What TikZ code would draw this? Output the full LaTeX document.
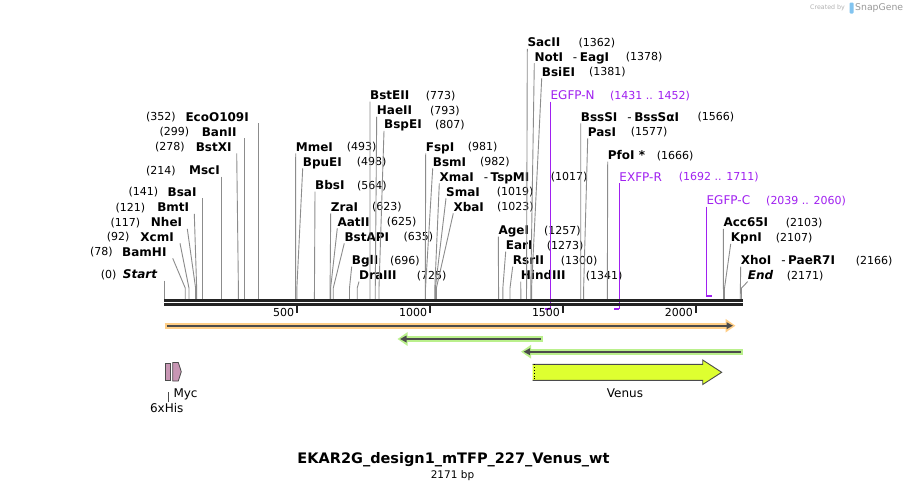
\documentclass[tikz,border=0pt]{standalone}
\usepackage{fontspec}
\setmainfont{DejaVu Sans}
\usetikzlibrary{arrows.meta}
\definecolor{mapline}{RGB}{35,35,35}
\definecolor{cutline}{RGB}{140,140,140}
\definecolor{primer}{RGB}{160,32,240}
\definecolor{orfhalo}{RGB}{255,206,134}
\definecolor{greenhalo}{RGB}{186,240,140}
\definecolor{featline}{RGB}{75,75,75}
\definecolor{venusfill}{RGB}{222,255,48}
\definecolor{tagpink}{RGB}{200,150,180}
\definecolor{logoblue}{RGB}{130,196,240}

\begin{document}
\begin{tikzpicture}[
	x=1pt, y=-1pt,
	declare function={bp(\p)=164.5+0.2658*\p;},
	enz/.style={inner sep=0pt, text height=10.75pt, text depth=2pt, font=\fontsize{12}{14}\selectfont\bfseries},
	sitenum/.style={inner sep=0pt, text height=10pt, text depth=2pt, font=\fontsize{11}{13}\selectfont},
	oligo/.style={enz, font=\fontsize{12}{14}\selectfont, text=primer},
	oligonum/.style={sitenum, text=primer},
	siteline/.style={draw=cutline, line width=0.9pt},
	oligoline/.style={draw=primer, line width=1.2pt},
	oligomark/.style={draw=primer, line width=2pt},
	ruler/.style={inner sep=0pt, font=\fontsize{11}{13}\selectfont},
	featlabel/.style={inner sep=1.5pt, font=\fontsize{12}{14}\selectfont},
	tag/.style={draw=featline, fill=tagpink, line width=0.8pt}
]
\useasboundingbox (0,0) rectangle (907,491);
\fill[white] (0,0) rectangle (907,491);

\node[inner sep=0pt, anchor=west, text=black!30, font=\fontsize{6.3}{7}\selectfont] (made) at (810,8) {Created by};
\fill[logoblue, rounded corners=1pt] (849.5,2.5) rectangle (853.5,13.5);
\node[inner sep=0pt, anchor=west, text=black!40, font=\fontsize{9.3}{11}\selectfont] (snap) at (855,8) {SnapGene};

\coordinate (m0) at (164,300.5);
\coordinate (m1) at (742.5,300.5);
\coordinate (sStart) at ({bp(0)},299);
\coordinate (sBamHI) at ({bp(78)},299);
\coordinate (sXcmI) at ({bp(92)},299);
\coordinate (sNheI) at ({bp(117)},299);
\coordinate (sBmtI) at ({bp(121)},299);
\coordinate (sBsaI) at ({bp(141)},299);
\coordinate (sMscI) at ({bp(214)},299);
\coordinate (sBstXI) at ({bp(278)},299);
\coordinate (sBanII) at ({bp(299)},299);
\coordinate (sEcoO109I) at ({bp(352)},299);
\coordinate (sMmeI) at ({bp(493)},299);
\coordinate (sBpuEI) at ({bp(498)},299);
\coordinate (sBbsI) at ({bp(564)},299);
\coordinate (sZraI) at ({bp(623)},299);
\coordinate (sAatII) at ({bp(625)},299);
\coordinate (sBstAPI) at ({bp(635)},299);
\coordinate (sBglI) at ({bp(696)},299);
\coordinate (sDraIII) at ({bp(725)},299);
\coordinate (sBstEII) at ({bp(773)},299);
\coordinate (sHaeII) at ({bp(793)},299);
\coordinate (sBspEI) at ({bp(807)},299);
\coordinate (sFspI) at ({bp(981)},299);
\coordinate (sBsmI) at ({bp(982)},299);
\coordinate (sXmaI) at ({bp(1017)},299);
\coordinate (sSmaI) at ({bp(1019)},299);
\coordinate (sXbaI) at ({bp(1023)},299);
\coordinate (sAgeI) at ({bp(1257)},299);
\coordinate (sEarI) at ({bp(1273)},299);
\coordinate (sRsrII) at ({bp(1300)},299);
\coordinate (sHindIII) at ({bp(1341)},299);
\coordinate (sSacII) at ({bp(1362)},299);
\coordinate (sNotI) at ({bp(1378)},299);
\coordinate (sBsiEI) at ({bp(1381)},299);
\coordinate (sBssSI) at ({bp(1566)},299);
\coordinate (sPasI) at ({bp(1577)},299);
\coordinate (sPfoI) at ({bp(1666)},299);
\coordinate (sAcc65I) at ({bp(2103)},299);
\coordinate (sKpnI) at ({bp(2107)},299);
\coordinate (sXhoI) at ({bp(2166)},299);
\coordinate (sEnd) at ({bp(2171)},299);
\coordinate (pN0) at ({bp(1431)},309);
\coordinate (pN1) at ({bp(1452)},309);
\coordinate (pR0) at ({bp(1692)},309);
\coordinate (pR1) at ({bp(1711)},309);
\coordinate (pC0) at ({bp(2039)},296);
\coordinate (pC1) at ({bp(2060)},296);

\node[enz, anchor=east] (Start) at (157.3,274) {\itshape Start};
\node[sitenum, anchor=west] (Start-n) at (100.7,274) {(0)};
\node[enz, anchor=east] (BamHI) at (166.7,251.7) {BamHI};
\node[sitenum, anchor=west] (BamHI-n) at (90,251.7) {(78)};
\node[enz, anchor=east] (XcmI) at (174,236.7) {XcmI};
\node[sitenum, anchor=west] (XcmI-n) at (106.7,236.7) {(92)};
\node[enz, anchor=east] (NheI) at (182.3,222.3) {NheI};
\node[sitenum, anchor=west] (NheI-n) at (110.5,222.3) {(117)};
\node[enz, anchor=east] (BmtI) at (189.3,207.3) {BmtI};
\node[sitenum, anchor=west] (BmtI-n) at (115.5,207.3) {(121)};
\node[enz, anchor=east] (BsaI) at (196.7,191.7) {BsaI};
\node[sitenum, anchor=west] (BsaI-n) at (128.3,191.7) {(141)};
\node[enz, anchor=east] (MscI) at (220,170) {MscI};
\node[sitenum, anchor=west] (MscI-n) at (146,170) {(214)};
\node[enz, anchor=east] (BstXI) at (231.7,146.7) {BstXI};
\node[sitenum, anchor=west] (BstXI-n) at (155,146.7) {(278)};
\node[enz, anchor=east] (BanII) at (236.7,131.7) {BanII};
\node[sitenum, anchor=west] (BanII-n) at (159.3,131.7) {(299)};
\node[enz, anchor=east] (EcoO109I) at (249,116.7) {EcoO109I};
\node[sitenum, anchor=west] (EcoO109I-n) at (146,116.7) {(352)};

\node[enz, anchor=west] (MmeI) at (295.7,146.7) {MmeI};
\node[sitenum, anchor=west] (MmeI-n) at (346.7,146.7) {(493)};
\node[enz, anchor=west] (BpuEI) at (302.7,161.7) {BpuEI};
\node[sitenum, anchor=west] (BpuEI-n) at (356.7,161.7) {(498)};
\node[enz, anchor=west] (BbsI) at (315,185) {BbsI};
\node[sitenum, anchor=west] (BbsI-n) at (357,185) {(564)};
\node[enz, anchor=west] (ZraI) at (330.7,206.7) {ZraI};
\node[sitenum, anchor=west] (ZraI-n) at (372,206.7) {(623)};
\node[enz, anchor=west] (AatII) at (337.3,221.7) {AatII};
\node[sitenum, anchor=west] (AatII-n) at (386.7,221.7) {(625)};
\node[enz, anchor=west] (BstAPI) at (344.3,236.7) {BstAPI};
\node[sitenum, anchor=west] (BstAPI-n) at (403.3,236.7) {(635)};
\node[enz, anchor=west] (BglI) at (351.7,260) {BglI};
\node[sitenum, anchor=west] (BglI-n) at (390,260) {(696)};
\node[enz, anchor=west] (DraIII) at (359,275) {DraIII};
\node[sitenum, anchor=west] (DraIII-n) at (416.7,275) {(725)};
\node[enz, anchor=west] (BstEII) at (370,95) {BstEII};
\node[sitenum, anchor=west] (BstEII-n) at (425.7,95) {(773)};
\node[enz, anchor=west] (HaeII) at (376.7,110) {HaeII};
\node[sitenum, anchor=west] (HaeII-n) at (430,110) {(793)};
\node[enz, anchor=west] (BspEI) at (384,124.3) {BspEI};
\node[sitenum, anchor=west] (BspEI-n) at (435,124.3) {(807)};
\node[enz, anchor=west] (FspI) at (425.7,146.7) {FspI};
\node[sitenum, anchor=west] (FspI-n) at (467.7,146.7) {(981)};
\node[enz, anchor=west] (BsmI) at (432.7,161.7) {BsmI};
\node[sitenum, anchor=west] (BsmI-n) at (480,161.7) {(982)};
\node[enz, anchor=west] (XmaI) at (439.3,176.7) {XmaI\hspace{10pt}\mdseries-\hspace{2.5pt}\bfseries TspMI};
\node[sitenum, anchor=west] (XmaI-n) at (550.7,176.7) {(1017)};
\node[enz, anchor=west] (SmaI) at (446,191.7) {SmaI};
\node[sitenum, anchor=west] (SmaI-n) at (496.7,191.7) {(1019)};
\node[enz, anchor=west] (XbaI) at (453.3,206.7) {XbaI};
\node[sitenum, anchor=west] (XbaI-n) at (497,206.7) {(1023)};
\node[enz, anchor=west] (AgeI) at (498.3,230) {AgeI};
\node[sitenum, anchor=west] (AgeI-n) at (544,230) {(1257)};
\node[enz, anchor=west] (EarI) at (505.7,245) {EarI};
\node[sitenum, anchor=west] (EarI-n) at (546.7,245) {(1273)};
\node[enz, anchor=west] (RsrII) at (512.7,260) {RsrII};
\node[sitenum, anchor=west] (RsrII-n) at (560.7,260) {(1300)};
\node[enz, anchor=west] (HindIII) at (520.7,275) {HindIII};
\node[sitenum, anchor=west] (HindIII-n) at (585.7,275) {(1341)};
\node[enz, anchor=west] (SacII) at (527.3,42.3) {SacII};
\node[sitenum, anchor=west] (SacII-n) at (578.3,42.3) {(1362)};
\node[enz, anchor=west] (NotI) at (534.3,56.7) {NotI\hspace{10pt}\mdseries-\hspace{2.5pt}\bfseries EagI};
\node[sitenum, anchor=west] (NotI-n) at (625.7,56.7) {(1378)};
\node[enz, anchor=west] (BsiEI) at (541.7,71.7) {BsiEI};
\node[sitenum, anchor=west] (BsiEI-n) at (589,71.7) {(1381)};
\node[enz, anchor=west] (BssSI) at (580.7,116.7) {BssSI\hspace{10pt}\mdseries-\hspace{2.5pt}\bfseries BssSαI};
\node[sitenum, anchor=west] (BssSI-n) at (697.3,116.7) {(1566)};
\node[enz, anchor=west] (PasI) at (587.7,131.7) {PasI};
\node[sitenum, anchor=west] (PasI-n) at (630.7,131.7) {(1577)};
\node[enz, anchor=west] (PfoI) at (607.7,155) {PfoI *};
\node[sitenum, anchor=west] (PfoI-n) at (656.7,155) {(1666)};
\node[enz, anchor=west] (Acc65I) at (723.3,222.3) {Acc65I};
\node[sitenum, anchor=west] (Acc65I-n) at (785.7,222.3) {(2103)};
\node[enz, anchor=west] (KpnI) at (730.7,237.3) {KpnI};
\node[sitenum, anchor=west] (KpnI-n) at (775.7,237.3) {(2107)};
\node[enz, anchor=west] (XhoI) at (740.7,260) {XhoI\hspace{10pt}\mdseries-\hspace{2.5pt}\bfseries PaeR7I};
\node[sitenum, anchor=west] (XhoI-n) at (855.7,260) {(2166)};
\node[enz, anchor=west] (End) at (747.7,275) {\itshape End};
\node[sitenum, anchor=west] (End-n) at (786.7,275) {(2171)};

\node[oligo, anchor=west] (EGFPN) at ({bp(1452)},95) {EGFP-N};
\node[oligonum, anchor=west] (EGFPN-n) at (610,95) {(1431 .. 1452)};
\node[oligo, anchor=west] (EXFPR) at ({bp(1711)},176.7) {EXFP-R};
\node[oligonum, anchor=west] (EXFPR-n) at (678.7,176.7) {(1692 .. 1711)};
\node[oligo, anchor=west] (EGFPC) at ({bp(2039)},200) {EGFP-C};
\node[oligonum, anchor=west] (EGFPC-n) at (766,200) {(2039 .. 2060)};

\draw[oligoline] (EGFPN.south west) -- (pN1);
\draw[oligomark] (pN0) -- (pN1);
\draw[oligoline] (EXFPR.south west) -- (pR1);
\draw[oligomark] (pR0) -- (pR1);
\draw[oligoline] (EGFPC.south west) -- (pC0);
\draw[oligomark] (pC0) -- (pC1);

\draw[siteline] (sStart |- Start.south) -- (sStart);
\draw[siteline] ([xshift=6pt]BamHI.south east) -- ([yshift=11pt]sBamHI) -- (sBamHI);
\draw[siteline] ([xshift=6pt]XcmI.south east) -- ([yshift=11pt]sXcmI) -- (sXcmI);
\draw[siteline] ([xshift=5pt]NheI.south east) -- ([yshift=11pt]sNheI) -- (sNheI);
\draw[siteline] ([xshift=5pt]BmtI.south east) -- ([yshift=11pt]sBmtI) -- (sBmtI);
\draw[siteline] (sBsaI |- BsaI.south) -- (sBsaI);
\draw[siteline] (sMscI |- MscI.south) -- (sMscI);
\draw[siteline] ([xshift=5pt]BstXI.south east) -- ([yshift=11pt]sBstXI) -- (sBstXI);
\draw[siteline] (sBanII |- BanII.south) -- (sBanII);
\draw[siteline] (sEcoO109I |- EcoO109I.south) -- (sEcoO109I);
\draw[siteline] (MmeI.south west) -- (sMmeI);
\draw[siteline] (BpuEI.south west) -- ([yshift=11pt]sBpuEI) -- (sBpuEI);
\draw[siteline] (BbsI.south west) -- (sBbsI);
\draw[siteline] (ZraI.south west) -- ([yshift=11pt]sZraI) -- (sZraI);
\draw[siteline] (AatII.south west) -- ([yshift=11pt]sAatII) -- (sAatII);
\draw[siteline] (BstAPI.south west) -- ([yshift=11pt]sBstAPI) -- (sBstAPI);
\draw[siteline] (BglI.south west) -- ([yshift=11pt]sBglI) -- (sBglI);
\draw[siteline] (DraIII.south west) -- ([yshift=11pt]sDraIII) -- (sDraIII);
\draw[siteline] (BstEII.south west) -- ([yshift=11pt]sBstEII) -- (sBstEII);
\draw[siteline] (HaeII.south west) -- ([yshift=11pt]sHaeII) -- (sHaeII);
\draw[siteline] (BspEI.south west) -- ([yshift=11pt]sBspEI) -- (sBspEI);
\draw[siteline] (FspI.south west) -- (sFspI);
\draw[siteline] (BsmI.south west) -- ([yshift=11pt]sBsmI) -- (sBsmI);
\draw[siteline] (XmaI.south west) -- ([yshift=11pt]sXmaI) -- (sXmaI);
\draw[siteline] (SmaI.south west) -- ([yshift=11pt]sSmaI) -- (sSmaI);
\draw[siteline] (XbaI.south west) -- ([yshift=11pt]sXbaI) -- (sXbaI);
\draw[siteline] (AgeI.south west) -- (sAgeI);
\draw[siteline] (EarI.south west) -- ([yshift=11pt]sEarI) -- (sEarI);
\draw[siteline] (RsrII.south west) -- ([yshift=11pt]sRsrII) -- (sRsrII);
\draw[siteline] (HindIII.south west) -- (sHindIII);
\draw[siteline] (SacII.south west) -- (sSacII);
\draw[siteline] (NotI.south west) -- ([yshift=11pt]sNotI) -- (sNotI);
\draw[siteline] (BsiEI.south west) -- ([yshift=11pt]sBsiEI) -- (sBsiEI);
\draw[siteline] (BssSI.south west) -- (sBssSI);
\draw[siteline] (PasI.south west) -- ([yshift=11pt]sPasI) -- (sPasI);
\draw[siteline] (PfoI.south west) -- (sPfoI);
\draw[siteline] (Acc65I.south west) -- (sAcc65I);
\draw[siteline] (KpnI.south west) -- ([yshift=11pt]sKpnI) -- (sKpnI);
\draw[siteline] (XhoI.south west) -- (sXhoI);
\draw[siteline] (End.south west) -- ([yshift=11pt]sEnd) -- (sEnd);

\draw[mapline, line width=2.2pt] (m0) -- (m1);
\draw[mapline, line width=2.2pt] ([yshift=-4pt]m0) -- ([yshift=-4pt]m1);
\draw[mapline, line width=2pt] ({bp(500)},305) -- ({bp(500)},312.5);
\draw[mapline, line width=2pt] ({bp(1000)},305) -- ({bp(1000)},312.5);
\draw[mapline, line width=2pt] ({bp(1500)},305) -- ({bp(1500)},312.5);
\draw[mapline, line width=2pt] ({bp(2000)},305) -- ({bp(2000)},312.5);
\node[ruler, anchor=east] (t500) at ({bp(500)-3},312) {500};
\node[ruler, anchor=east] (t1000) at ({bp(1000)-3},312) {1000};
\node[ruler, anchor=east] (t1500) at ({bp(1500)-3},312) {1500};
\node[ruler, anchor=east] (t2000) at ({bp(2000)-3},312) {2000};

\coordinate (o0) at (164.5,325.7);
\coordinate (o1) at (735.5,325.7);
\draw[orfhalo, line width=6pt, -{Triangle[length=10pt,width=13pt]}] (o0) -- (o1);
\draw[featline, line width=1.8pt, -{Triangle[length=6.5pt,width=6.5pt]}] ([xshift=2pt]o0) -- ([xshift=-2.5pt]o1);
\coordinate (g0) at (542.7,339);
\coordinate (g1) at (397.5,339);
\draw[greenhalo, line width=6pt, -{Triangle[length=10pt,width=13pt]}] (g0) -- (g1);
\draw[featline, line width=1.8pt, -{Triangle[length=6.5pt,width=6.5pt]}] ([xshift=-2pt]g0) -- ([xshift=2.5pt]g1);
\coordinate (h0) at (742.7,351.7);
\coordinate (h1) at (521,351.7);
\draw[greenhalo, line width=6pt, -{Triangle[length=10pt,width=13pt]}] (h0) -- (h1);
\draw[featline, line width=1.8pt, -{Triangle[length=6.5pt,width=6.5pt]}] ([xshift=-2pt]h0) -- ([xshift=2.5pt]h1);

\fill[venusfill] (532.7,364.3) -- (702.7,364.3) -- (702.7,360) -- (721.7,372.3) -- (702.7,384.5) -- (702.7,380.3) -- (532.7,380.3) -- cycle;
\draw[featline, line width=0.9pt, line join=miter] (532.7,364.3) -- (702.7,364.3) -- (702.7,360) -- (721.7,372.3) -- (702.7,384.5) -- (702.7,380.3) -- (532.7,380.3);
\draw[black, dotted, line width=0.8pt] (534.6,364.3) -- (534.6,380.3);
\node[featlabel] (venus) at (625,393) {Venus};

\node[tag, inner sep=0pt, minimum width=4.5pt, minimum height=16.5pt] (his) at (168,372) {};
\draw[tag] (172.7,362.5) -- (178.3,362.5) -- (181.3,371.7) -- (178.3,381) -- (172.7,381) -- cycle;
\node[featlabel, anchor=west] (myc) at (171.8,394) {Myc};
\node[featlabel] (hisl) at (166.7,408.5) {6xHis};
\draw[featline, line width=0.7pt] (his.south |- hisl.north) -- ([yshift=-11pt]his.south);

\node[inner sep=0pt, font=\fontsize{14.5}{17}\selectfont\bfseries] (title) at (453.5,460) {EKAR2G\_design1\_mTFP\_227\_Venus\_wt};
\node[inner sep=0pt, font=\fontsize{10.5}{12}\selectfont] (size) at (452.5,475.5) {2171 bp};
\end{tikzpicture}
\end{document}
